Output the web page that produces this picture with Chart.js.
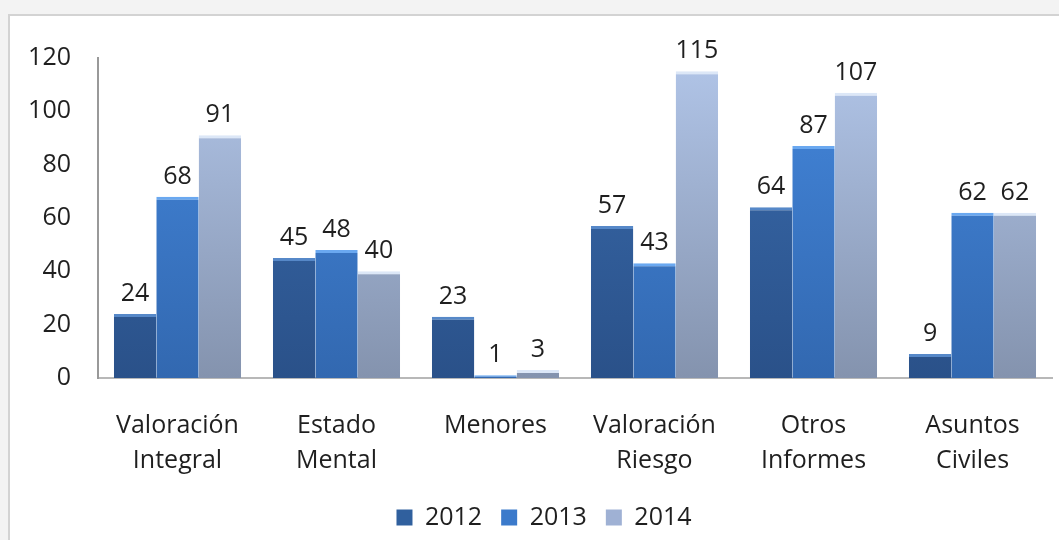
<!DOCTYPE html>
<html>
<head>
<meta charset="utf-8">
<script src="https://cdn.jsdelivr.net/npm/chart.js@4/dist/chart.umd.min.js"></script>
<style>
  body { margin: 0; background: #f3f3f3; overflow: hidden; }
  #box { position: absolute; left: 8px; top: 14px; width: 1100px; height: 540px; background: #fff; border: 2px solid #d3d3d3; }
  #wrap { position: absolute; left: 0; top: 0; width: 1049px; height: 524px; }
</style>
</head>
<body>
<div id="box"><div id="wrap"><canvas id="informes"></canvas></div></div>
<script>
const categories = [
    ['Valoración', 'Integral'],
    ['Estado', 'Mental'],
    ['Menores'],
    ['Valoración', 'Riesgo'],
    ['Otros', 'Informes'],
    ['Asuntos', 'Civiles']
];
const years = ['2012', '2013', '2014'];
const values2012 = [24, 45, 23, 57, 64, 9];
const values2013 = [68, 48, 1, 43, 87, 62];
const values2014 = [91, 40, 3, 115, 107, 62];
const yTicks = [0, 20, 40, 60, 80, 100, 120];

const FONT = '"Open Sans"';
const FSIZE = 25;

// top / bottom colours of each series (gradient down the bar)
const topColors = ['#3a6cae', '#4487dc', '#b1c5e8'];
const bottomColors = ['#2a5189', '#3268b0', '#8493ae'];
const edgeColors = ['#5688c8', '#6aa8f0', '#dce7f7'];
const legendColors = ['#30609e', '#3b7acb', '#9fb1d4'];

function barFill(i){
    return function(ctx){
        const chart = ctx.chart;
        const area = chart.chartArea;
        if(!area){
            return legendColors[i];
        }
        const g = chart.ctx.createLinearGradient(0, area.top, 0, area.bottom);
        g.addColorStop(0, topColors[i]);
        g.addColorStop(1, bottomColors[i]);
        return g;
    }
}

const seriesValues = [values2012, values2013, values2014];
const datasets = [];
for(let i = 0; i < years.length; i++){
    datasets.push({
        label: years[i],
        data: seriesValues[i],
        backgroundColor: barFill(i),
        borderColor: edgeColors[i],
        borderWidth: {top: 3, left: 0, right: 0, bottom: 0},
        borderSkipped: 'bottom',
        categoryPercentage: 0.8,
        barPercentage: 1.0
    });
}

const valueLabels = {
    id: 'valueLabels',
    afterDatasetsDraw(chart){
        const ctx = chart.ctx;
        ctx.save();
        ctx.font = FSIZE + 'px ' + FONT;
        ctx.fillStyle = '#1f1f1f';
        ctx.textAlign = 'center';
        ctx.textBaseline = 'alphabetic';
        chart.data.datasets.forEach((ds, i) => {
            const meta = chart.getDatasetMeta(i);
            meta.data.forEach((bar, j) => {
                ctx.fillText(ds.data[j], bar.x, bar.y - 13);
            });
        });
        ctx.restore();
    }
};

// the legend in the original sits a bit right of centre
const legendShift = {
    id: 'legendShift',
    afterLayout(chart){
        if(chart.legend){
            chart.legend.left += 13;
            chart.legend.right += 13;
        }
    }
};

new Chart(document.getElementById('informes'), {
    type: 'bar',
    data: {
        labels: categories,
        datasets: datasets
    },
    options: {
        responsive: true,
        maintainAspectRatio: false,
        animation: false,
        layout: {
            padding: {top: 25, right: 7, bottom: 0, left: 0}
        },
        scales: {
            x: {
                grid: {display: false, drawTicks: false},
                border: {display: true, color: '#b8b8b8', width: 2},
                ticks: {
                    color: '#1f1f1f',
                    padding: 30,
                    maxRotation: 0,
                    font: {family: FONT, size: FSIZE, lineHeight: 1.4}
                },
                afterFit: function(scale){
                    scale.height = 108;
                }
            },
            y: {
                min: 0,
                max: 120,
                grid: {display: false, drawTicks: false},
                border: {display: true, color: '#999', width: 2},
                afterBuildTicks: function(scale){
                    scale.ticks = yTicks.map(v => ({value: v}));
                },
                ticks: {
                    color: '#1f1f1f',
                    padding: 27,
                    font: {family: FONT, size: FSIZE}
                },
                afterFit: function(scale){
                    scale.width = 88;
                }
            }
        },
        plugins: {
            legend: {
                position: 'bottom',
                labels: {
                    color: '#1f1f1f',
                    boxWidth: 16,
                    boxHeight: 16,
                    padding: 19,
                    font: {family: FONT, size: FSIZE},
                    generateLabels: function(chart){
                        const items = Chart.defaults.plugins.legend.labels.generateLabels(chart);
                        items.forEach((it, i) => {
                            it.fillStyle = legendColors[i];
                            it.strokeStyle = legendColors[i];
                            it.lineWidth = 0;
                        });
                        return items;
                    }
                }
            },
            tooltip: {enabled: false}
        }
    },
    plugins: [valueLabels, legendShift]
});
</script>
</body>
</html>
